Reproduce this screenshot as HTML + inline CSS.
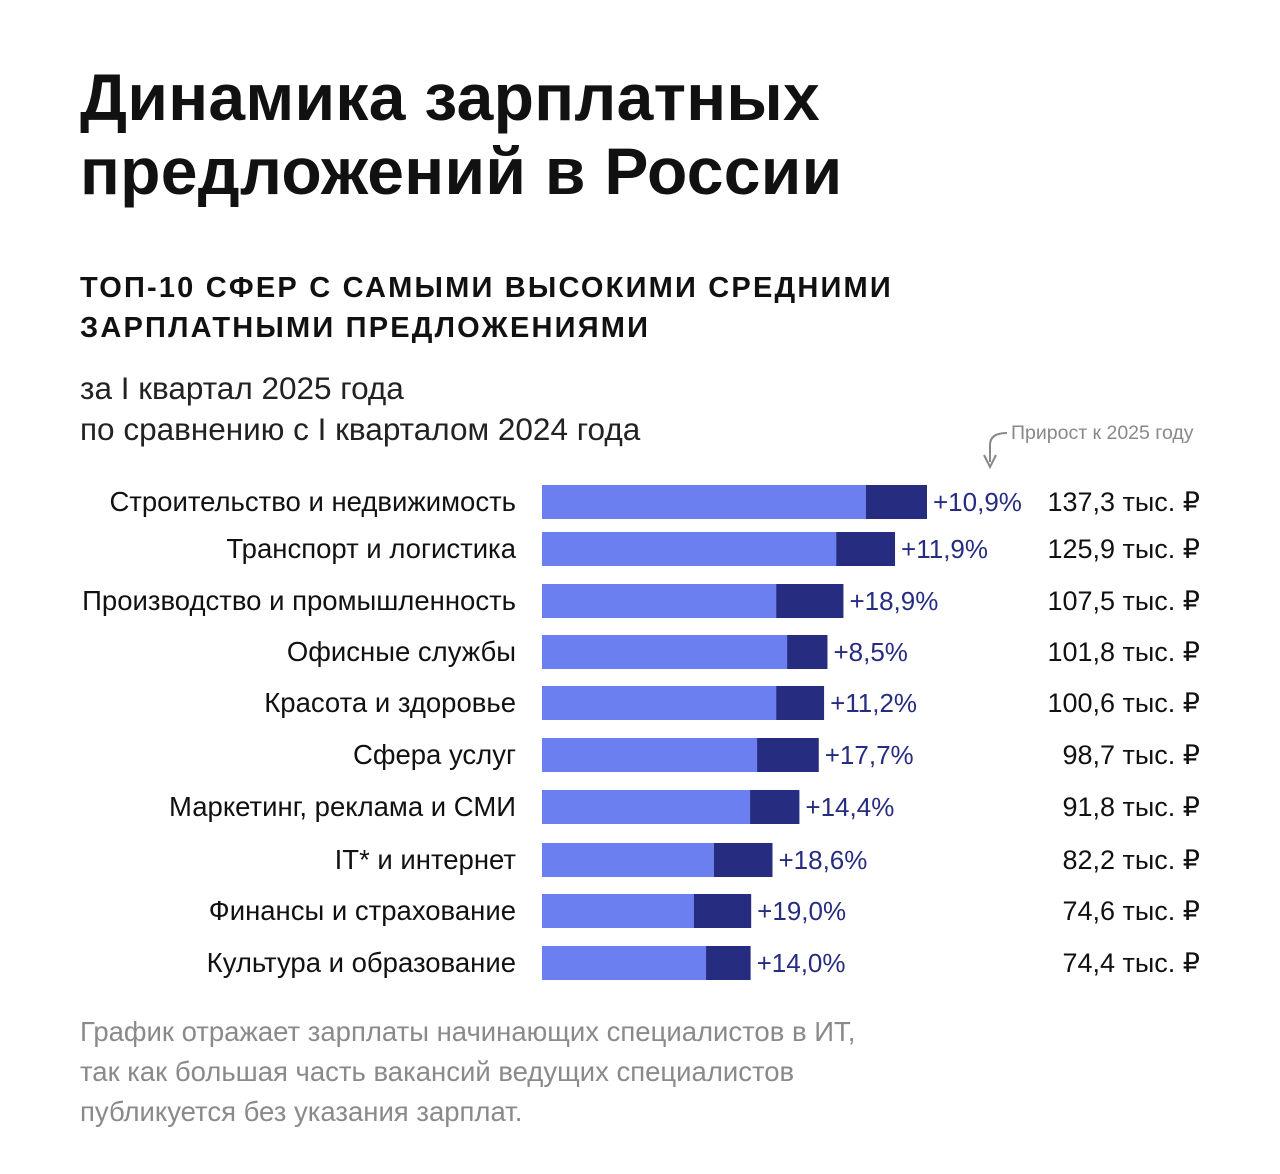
<!DOCTYPE html>
<html><head><meta charset="utf-8"><style>
body{margin:0;background:#fff;width:1280px;height:1174px;overflow:hidden;font-family:"Liberation Sans","DejaVu Sans",sans-serif;}
.t{position:absolute;white-space:nowrap;color:#111;}
</style></head><body>
<div class="t" style="left:80px;top:60px;font-size:66px;line-height:74px;font-weight:bold;letter-spacing:0.3px;">Динамика зарплатных<br>предложений в России</div>
<div class="t" style="left:80px;top:268px;font-size:29px;line-height:40px;font-weight:bold;letter-spacing:2.2px;">ТОП-10 СФЕР С САМЫМИ ВЫСОКИМИ СРЕДНИМИ<br>ЗАРПЛАТНЫМИ ПРЕДЛОЖЕНИЯМИ</div>
<div class="t" style="left:80px;top:368px;font-size:31.5px;line-height:41px;color:#222;">за I квартал 2025 года<br>по сравнению с I кварталом 2024 года</div>
<div class="t" style="left:1011px;top:422px;font-size:19.5px;color:#888;">Прирост к 2025 году</div>
<svg style="position:absolute;left:0;top:0" width="1280" height="1174">
<path d="M1007 433 Q990 433 990 445 L990 462" fill="none" stroke="#888" stroke-width="2"/>
<path d="M984 455 L990 467 L996 455" fill="none" stroke="#888" stroke-width="2"/>
</svg>
<svg id="chart" style="position:absolute;left:0;top:0" width="1280" height="1174"></svg>
<div class="t" style="left:80px;top:1012px;font-size:27.5px;line-height:40px;color:#8a8a8a;">График отражает зарплаты начинающих специалистов в ИТ,<br>так как большая часть вакансий ведущих специалистов<br>публикуется без указания зарплат.</div>
<script>
const categories=["Строительство и недвижимость","Транспорт и логистика","Производство и промышленность","Офисные службы","Красота и здоровье","Сфера услуг","Маркетинг, реклама и СМИ","IT* и интернет","Финансы и страхование","Культура и образование"];
const totals=[137.3,125.9,107.5,101.8,100.6,98.7,91.8,82.2,74.6,74.4];
const basePart=[115.5,104.9,83.5,87.4,83.5,76.7,74.2,61.3,54.2,58.5];
const growth=["+10,9%","+11,9%","+18,9%","+8,5%","+11,2%","+17,7%","+14,4%","+18,6%","+19,0%","+14,0%"];
const valueLabels=["137,3 тыс. ₽","125,9 тыс. ₽","107,5 тыс. ₽","101,8 тыс. ₽","100,6 тыс. ₽","98,7 тыс. ₽","91,8 тыс. ₽","82,2 тыс. ₽","74,6 тыс. ₽","74,4 тыс. ₽"];
const svg=document.getElementById('chart');const NS="http://www.w3.org/2000/svg";
const x0=542,k=385/137.3;
const xs=v=>x0+v*k;
const rowCenters=[502,549,601,652,703,755,807,860,911,963];
const yc=i=>rowCenters[i];
function mk(tag,attrs,txt){const e=document.createElementNS(NS,tag);for(const a in attrs)e.setAttribute(a,attrs[a]);if(txt!=null)e.textContent=txt;svg.appendChild(e);return e;}
categories.forEach((c,i)=>{
 const y=yc(i);
 let l=mk('text',{x:516,y:y+9,'text-anchor':'end','font-size':27.5,fill:'#111','font-family':'Liberation Sans, sans-serif'},c);
 
 
 let b1=mk('rect',{x:x0,y:y-17,width:xs(basePart[i])-x0,height:34,fill:'#6b7ff0'});
 
 
 let b2=mk('rect',{x:xs(basePart[i]),y:y-17,width:xs(totals[i])-xs(basePart[i]),height:34,fill:'#262d80'});
 
 
 let g=mk('text',{x:xs(totals[i])+6,y:y+9,'font-size':26,fill:'#262d80','font-family':'Liberation Sans, sans-serif'},growth[i]);
 
 
 let v=mk('text',{x:1200,y:y+9,'text-anchor':'end','font-size':27,fill:'#111','font-family':'Liberation Sans, sans-serif'},valueLabels[i]);
 
 
});
</script>
</body></html>
